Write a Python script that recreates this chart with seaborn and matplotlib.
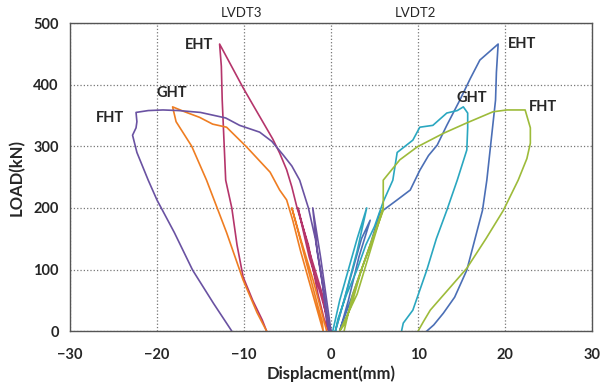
import numpy as np
import pandas as pd
import matplotlib
matplotlib.use('Agg')
import matplotlib.pyplot as plt
import seaborn as sns

# LVDT3 (left side) curves
eht3_x = [0, -1.2, -2.5, -3.8, -2.5, -1.0, -0.3, -0.8, -1.5, -2.6, -3.9, -4.5, -5.1, -5.9, -6.7, -9.0, -10.1, -12.8,
          -12.6, -12.5, -12.3, -12.1, -11.4, -10.8, -10.1, -9.0, -7.9, -7.4]
eht3_y = [0, 60, 120, 200, 130, 60, 0, 20, 60, 140, 200, 234, 262, 289, 312, 368, 395, 466,
          430, 375, 310, 245, 200, 140, 88, 50, 18, 0]

ght3_x = [-0.5, -2.0, -3.5, -4.5, -3.0, -1.5, -1.0, -0.9, -1.5, -2.5, -3.5, -4.4, -5.1, -5.9, -7.0, -9.7, -12.0, -13.6, -15.1, -16.8, -18.2,
          -18.0, -17.8, -16.9, -16.0, -14.3, -12.0, -10.1, -8.5, -7.4]
ght3_y = [0, 80, 150, 200, 120, 40, 15, 0, 30, 80, 130, 180, 213, 229, 258, 299, 331, 336, 347, 356, 364,
          352, 340, 320, 300, 245, 160, 83, 30, 0]

fht3_x = [0, -0.6, -1.2, -2.1, -1.6, -0.8, -0.2, -0.5, -1.0, -1.8, -2.6, -3.6, -4.5, -5.5, -6.8, -8.2, -10.5, -12.1, -15.0, -17.5, -19.3, -21.0, -22.4,
          -22.3, -22.4, -22.8, -22.3, -21.0, -20.0, -18.0, -15.9, -13.5, -11.4]
fht3_y = [0, 60, 120, 200, 130, 60, 0, 20, 80, 150, 200, 245, 268, 286, 308, 323, 334, 346, 355, 358, 359, 358, 355,
          340, 330, 318, 290, 245, 213, 160, 99, 45, 0]

# LVDT2 (right side) curves
eht2_x = [0.5, 1.5, 2.5, 3.5, 4.5, 3.2, 2.0, 1.0, 1.2, 2.0, 3.0, 4.5, 5.6, 7.6, 9.1, 10.2, 11.2, 12.2, 13.3, 14.8, 16.0, 17.1, 19.2,
          19.0, 18.9, 18.4, 17.9, 17.4, 15.6, 14.2, 12.9, 11.8, 11.0]
eht2_y = [0, 50, 100, 150, 180, 120, 50, 0, 10, 40, 80, 140, 192, 213, 229, 261, 285, 302, 334, 375, 410, 440, 466,
          420, 375, 310, 245, 196, 99, 55, 29, 10, 0]

ght2_x = [0.2, 1.0, 2.0, 3.0, 4.1, 3.0, 1.5, 0.5, 0.8, 1.8, 3.0, 4.0, 5.0, 6.0, 7.1, 7.6, 9.4, 10.2, 11.7, 13.3, 14.5, 15.2,
          15.7, 15.7, 15.6, 14.5, 13.3, 12.1, 11.0, 9.4, 8.3, 8.1]
ght2_y = [0, 50, 100, 150, 200, 130, 50, 0, 20, 60, 100, 140, 170, 210, 245, 290, 310, 331, 334, 354, 358, 364,
          354, 330, 294, 245, 196, 150, 99, 34, 13, 0]

fht2_x = [1.5, 2.5, 4.0, 5.0, 6.0, 4.5, 3.0, 1.0, 1.5, 2.5, 3.5, 4.8, 6.0, 6.0, 7.9, 9.9, 12.9, 15.6, 18.6, 20.2, 22.3,
          22.9, 22.9, 22.5, 21.5, 19.8, 17.8, 15.6, 13.5, 12.2, 11.4, 10.6, 10.0]
fht2_y = [0, 60, 120, 160, 200, 130, 60, 0, 10, 50, 100, 150, 196, 245, 278, 299, 321, 338, 356, 359, 359,
          330, 305, 280, 245, 196, 150, 102, 68, 47, 34, 15, 0]

curves = [
    ('EHT3', eht3_x, eht3_y),
    ('GHT3', ght3_x, ght3_y),
    ('FHT3', fht3_x, fht3_y),
    ('EHT2', eht2_x, eht2_y),
    ('GHT2', ght2_x, ght2_y),
    ('FHT2', fht2_x, fht2_y),
]
colors = {'EHT3': '#b5356b', 'GHT3': '#ef7d22', 'FHT3': '#6a52a2',
          'EHT2': '#4b6fb6', 'GHT2': '#2aa7c0', 'FHT2': '#9dbb3a'}

rows = []
for name, xs, ys in curves:
    for i, (xv, yv) in enumerate(zip(xs, ys)):
        rows.append({'curve': name, 'order': i, 'disp': xv, 'load': yv})
df = pd.DataFrame(rows)

sns.set_style('white')
plt.rcParams['font.family'] = ['Lato', 'DejaVu Sans']

fig = plt.figure(figsize=(6.13, 3.85), dpi=100)
ax = fig.add_axes([0.114, 0.140, 0.852, 0.800])

sns.lineplot(data=df, x='disp', y='load', hue='curve', units='curve', estimator=None,
             sort=False, palette=colors, linewidth=1.2, legend=False, ax=ax)

ax.set_xlim(-30, 30)
ax.set_ylim(0, 500)
ax.set_xticks([-30, -20, -10, 0, 10, 20, 30])
ax.set_yticks([0, 100, 200, 300, 400, 500])
ax.grid(True, linestyle=':', color='#777777', linewidth=0.9)
for s in ax.spines.values():
    s.set_color('#555555')
    s.set_linewidth(1.0)
ax.tick_params(axis='x', labelsize=10.5, length=0, pad=12)
ax.tick_params(axis='y', labelsize=10.5, length=0, pad=8)
for lab in ax.get_xticklabels() + ax.get_yticklabels():
    lab.set_fontweight('bold')

ax.set_xlabel('Displacment(mm)', fontsize=12, fontweight='bold', labelpad=3)
ax.set_ylabel('LOAD(kN)', fontsize=12, fontweight='bold', labelpad=6)

labels = [('EHT', -15.2, 464), ('GHT', -18.3, 386), ('FHT', -25.4, 346),
          ('EHT', 22.0, 466), ('GHT', 16.2, 378), ('FHT', 24.4, 364)]
for txt, lx, ly in labels:
    ax.text(lx, ly, txt, fontsize=10.5, fontweight='bold', ha='center', va='center')

ax.text(-10.3, 516, 'LVDT3', fontsize=9.5, ha='center', va='center', clip_on=False)
ax.text(9.7, 516, 'LVDT2', fontsize=9.5, ha='center', va='center', clip_on=False)

fig.savefig('out.png', dpi=100)
